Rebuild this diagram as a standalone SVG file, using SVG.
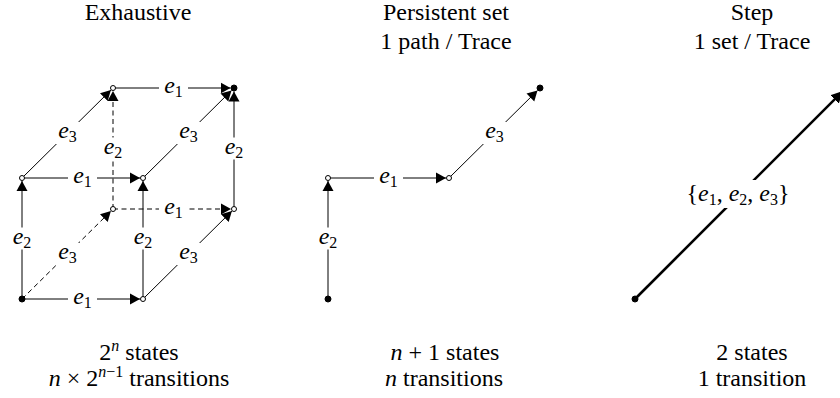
<svg xmlns="http://www.w3.org/2000/svg" width="840" height="398" viewBox="0 0 840 398" font-family="Liberation Serif, serif">
<defs>
<marker id="ah" markerUnits="userSpaceOnUse" markerWidth="12" markerHeight="12" viewBox="0 0 12 12" refX="10" refY="6" orient="auto"><path d="M0,0.5 L10,6 L0,11.5 z" fill="#000"/></marker>
<marker id="ahb" markerUnits="userSpaceOnUse" markerWidth="14" markerHeight="14" viewBox="0 0 14 14" refX="12" refY="7" orient="auto"><path d="M0,1 L12,7 L0,13 z" fill="#000"/></marker>
</defs>
<rect width="840" height="398" fill="#fff"/>

<g id="titles">
<text style="font-family:Liberation Serif,serif !important" font-family="Liberation Serif, serif" font-size="24" text-anchor="middle" x="138" y="20">Exhaustive</text>
<text style="font-family:Liberation Serif,serif !important" font-family="Liberation Serif, serif" font-size="24" text-anchor="middle" x="446" y="20">Persistent set</text>
<text style="font-family:Liberation Serif,serif !important" font-family="Liberation Serif, serif" font-size="24" text-anchor="middle" x="446" y="49">1 path / Trace</text>
<text style="font-family:Liberation Serif,serif !important" font-family="Liberation Serif, serif" font-size="24" text-anchor="middle" x="752" y="20">Step</text>
<text style="font-family:Liberation Serif,serif !important" font-family="Liberation Serif, serif" font-size="24" text-anchor="middle" x="752" y="49">1 set / Trace</text>
</g>

<g id="connectors">
<g stroke="#000" stroke-width="1" fill="none">
<line id="c-AB" x1="22" y1="299" x2="140" y2="299" marker-end="url(#ah)"/>
<line id="c-AC" x1="22" y1="299" x2="22" y2="181" marker-end="url(#ah)"/>
<line id="c-AE" x1="22" y1="299" x2="110.9" y2="211.1" stroke-dasharray="5 3.5" marker-end="url(#ah)"/>
<line id="c-CD" x1="22" y1="178" x2="140" y2="178" marker-end="url(#ah)"/>
<line id="c-BD" x1="143" y1="299" x2="143" y2="181" marker-end="url(#ah)"/>
<line id="c-BF" x1="143" y1="299" x2="231.9" y2="211.1" marker-end="url(#ah)"/>
<line id="c-CG" x1="22" y1="178" x2="110.9" y2="90.1" marker-end="url(#ah)"/>
<line id="c-EG" x1="113" y1="209" x2="113" y2="91" stroke-dasharray="5 3.5" marker-end="url(#ah)"/>
<line id="c-EF" x1="113" y1="209" x2="231" y2="209" stroke-dasharray="5 3.5" marker-end="url(#ah)"/>
<line id="c-GH" x1="113" y1="88" x2="230.5" y2="88" marker-end="url(#ah)"/>
<line id="c-DH" x1="143" y1="178" x2="231.5" y2="90.5" marker-end="url(#ah)"/>
<line id="c-FH" x1="234" y1="209" x2="234" y2="91.5" marker-end="url(#ah)"/>
<line id="p-01" x1="328" y1="299" x2="328" y2="181" marker-end="url(#ah)"/>
<line id="p-12" x1="328" y1="178" x2="446" y2="178" marker-end="url(#ah)"/>
<line id="p-23" x1="449" y1="178" x2="537.5" y2="90.5" marker-end="url(#ah)"/>
<line id="s-01" x1="635" y1="299" x2="843" y2="91" stroke-width="2.6" marker-end="url(#ahb)"/>
</g>
<g id="label-bg" fill="#fff">
<rect x="68" y="288" width="29" height="22"/>
<rect x="8" y="227.5" width="28" height="22"/>
<rect x="54" y="243" width="27" height="22"/>
<rect x="68" y="167" width="29" height="22"/>
<rect x="129" y="227.5" width="28" height="22"/>
<rect x="175" y="243" width="27" height="22"/>
<rect x="54" y="122" width="27" height="22"/>
<rect x="99" y="137.5" width="28" height="22"/>
<rect x="159" y="198" width="29" height="22"/>
<rect x="159" y="77" width="29" height="22"/>
<rect x="175" y="122" width="27" height="22"/>
<rect x="220" y="137.5" width="28" height="22"/>
<rect x="314" y="227.5" width="28" height="22"/>
<rect x="374" y="167" width="29" height="22"/>
<rect x="481" y="122" width="27" height="22"/>
<rect x="684" y="180" width="108" height="28"/>
</g>
<g id="labels">
<text style="font-family:Liberation Serif,serif !important" font-family="Liberation Serif, serif" font-size="24" text-anchor="middle" x="82.5" y="304"><tspan font-style="italic">e</tspan><tspan font-size="16" dy="4">1</tspan></text>
<text style="font-family:Liberation Serif,serif !important" font-family="Liberation Serif, serif" font-size="24" text-anchor="middle" x="22" y="243.5"><tspan font-style="italic">e</tspan><tspan font-size="16" dy="4">2</tspan></text>
<text style="font-family:Liberation Serif,serif !important" font-family="Liberation Serif, serif" font-size="24" text-anchor="middle" x="67.5" y="259"><tspan font-style="italic">e</tspan><tspan font-size="16" dy="4">3</tspan></text>
<text style="font-family:Liberation Serif,serif !important" font-family="Liberation Serif, serif" font-size="24" text-anchor="middle" x="82.5" y="183"><tspan font-style="italic">e</tspan><tspan font-size="16" dy="4">1</tspan></text>
<text style="font-family:Liberation Serif,serif !important" font-family="Liberation Serif, serif" font-size="24" text-anchor="middle" x="143" y="243.5"><tspan font-style="italic">e</tspan><tspan font-size="16" dy="4">2</tspan></text>
<text style="font-family:Liberation Serif,serif !important" font-family="Liberation Serif, serif" font-size="24" text-anchor="middle" x="188.5" y="259"><tspan font-style="italic">e</tspan><tspan font-size="16" dy="4">3</tspan></text>
<text style="font-family:Liberation Serif,serif !important" font-family="Liberation Serif, serif" font-size="24" text-anchor="middle" x="67.5" y="138"><tspan font-style="italic">e</tspan><tspan font-size="16" dy="4">3</tspan></text>
<text style="font-family:Liberation Serif,serif !important" font-family="Liberation Serif, serif" font-size="24" text-anchor="middle" x="113" y="153.5"><tspan font-style="italic">e</tspan><tspan font-size="16" dy="4">2</tspan></text>
<text style="font-family:Liberation Serif,serif !important" font-family="Liberation Serif, serif" font-size="24" text-anchor="middle" x="173.5" y="214"><tspan font-style="italic">e</tspan><tspan font-size="16" dy="4">1</tspan></text>
<text style="font-family:Liberation Serif,serif !important" font-family="Liberation Serif, serif" font-size="24" text-anchor="middle" x="173.5" y="93"><tspan font-style="italic">e</tspan><tspan font-size="16" dy="4">1</tspan></text>
<text style="font-family:Liberation Serif,serif !important" font-family="Liberation Serif, serif" font-size="24" text-anchor="middle" x="188.5" y="138"><tspan font-style="italic">e</tspan><tspan font-size="16" dy="4">3</tspan></text>
<text style="font-family:Liberation Serif,serif !important" font-family="Liberation Serif, serif" font-size="24" text-anchor="middle" x="234" y="153.5"><tspan font-style="italic">e</tspan><tspan font-size="16" dy="4">2</tspan></text>
<text style="font-family:Liberation Serif,serif !important" font-family="Liberation Serif, serif" font-size="24" text-anchor="middle" x="328" y="243.5"><tspan font-style="italic">e</tspan><tspan font-size="16" dy="4">2</tspan></text>
<text style="font-family:Liberation Serif,serif !important" font-family="Liberation Serif, serif" font-size="24" text-anchor="middle" x="388.5" y="183"><tspan font-style="italic">e</tspan><tspan font-size="16" dy="4">1</tspan></text>
<text style="font-family:Liberation Serif,serif !important" font-family="Liberation Serif, serif" font-size="24" text-anchor="middle" x="494.5" y="138"><tspan font-style="italic">e</tspan><tspan font-size="16" dy="4">3</tspan></text>
<text style="font-family:Liberation Serif,serif !important" font-family="Liberation Serif, serif" font-size="24" text-anchor="middle" x="738" y="201">{<tspan font-style="italic">e</tspan><tspan font-size="16" dy="4">1</tspan><tspan dy="-4">, </tspan><tspan font-style="italic">e</tspan><tspan font-size="16" dy="4">2</tspan><tspan dy="-4">, </tspan><tspan font-style="italic">e</tspan><tspan font-size="16" dy="4">3</tspan><tspan dy="-4">}</tspan></text>
</g>
</g>

<g id="nodes" stroke="#000" stroke-width="1">
<g id="nA"><circle cx="22" cy="299" r="3" fill="#000"/></g>
<g id="nB"><circle cx="143" cy="299" r="2.5" fill="#fff"/></g>
<g id="nC"><circle cx="22" cy="178" r="2.5" fill="#fff"/></g>
<g id="nD"><circle cx="143" cy="178" r="2.5" fill="#fff"/></g>
<g id="nE"><circle cx="113" cy="209" r="2.5" fill="#fff"/></g>
<g id="nF"><circle cx="234" cy="209" r="2.5" fill="#fff"/></g>
<g id="nG"><circle cx="113" cy="88" r="2.5" fill="#fff"/></g>
<g id="nH"><circle cx="234" cy="88" r="3" fill="#000"/></g>
<g id="nP0"><circle cx="328" cy="299" r="3" fill="#000"/></g>
<g id="nP1"><circle cx="328" cy="178" r="2.5" fill="#fff"/></g>
<g id="nP2"><circle cx="449" cy="178" r="2.5" fill="#fff"/></g>
<g id="nP3"><circle cx="540" cy="88" r="3" fill="#000"/></g>
<g id="nS0"><circle cx="635" cy="299" r="3" fill="#000"/></g>
</g>

<g id="footer">
<text style="font-family:Liberation Serif,serif !important" font-family="Liberation Serif, serif" font-size="24" text-anchor="middle" x="139" y="360">2<tspan font-size="16" font-style="italic" dy="-9">n</tspan><tspan dy="9"> states</tspan></text>
<text style="font-family:Liberation Serif,serif !important" font-family="Liberation Serif, serif" font-size="24" text-anchor="middle" x="139" y="386"><tspan font-style="italic">n</tspan> × 2<tspan font-size="16" dy="-9"><tspan font-style="italic">n</tspan>−1</tspan><tspan dy="9"> transitions</tspan></text>
<text style="font-family:Liberation Serif,serif !important" font-family="Liberation Serif, serif" font-size="24" text-anchor="middle" x="445" y="360"><tspan font-style="italic">n</tspan> + 1 states</text>
<text style="font-family:Liberation Serif,serif !important" font-family="Liberation Serif, serif" font-size="24" text-anchor="middle" x="444" y="386"><tspan font-style="italic">n</tspan> transitions</text>
<text style="font-family:Liberation Serif,serif !important" font-family="Liberation Serif, serif" font-size="24" text-anchor="middle" x="752" y="360">2 states</text>
<text style="font-family:Liberation Serif,serif !important" font-family="Liberation Serif, serif" font-size="24" text-anchor="middle" x="752" y="386">1 transition</text>
</g>
</svg>
